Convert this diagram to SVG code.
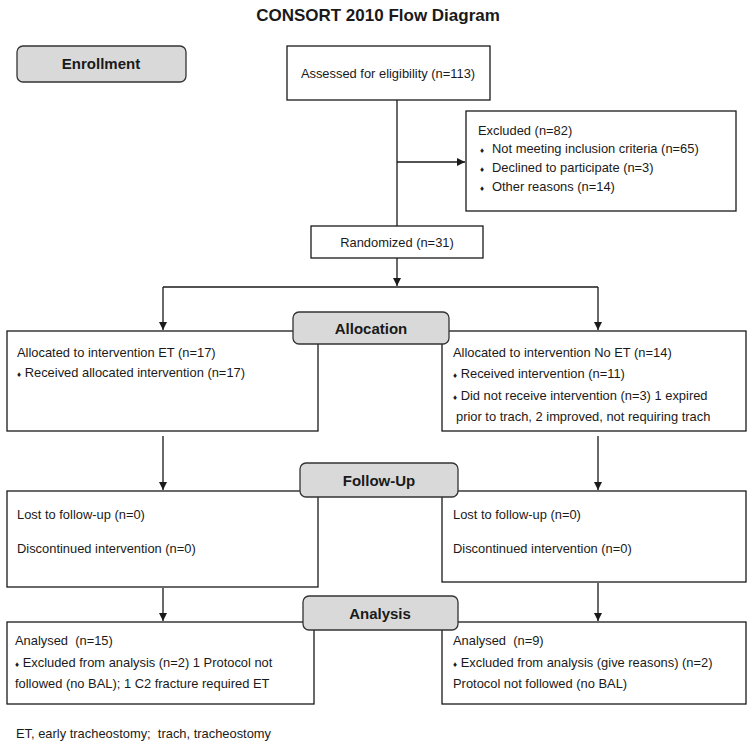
<svg xmlns="http://www.w3.org/2000/svg" width="756" height="745" viewBox="0 0 756 745">
<defs>
<marker id="ah" viewBox="0 0 10 10" refX="10" refY="5" markerWidth="8" markerHeight="8" markerUnits="userSpaceOnUse" orient="auto">
<path d="M0,0 L10,5 L0,10 z" fill="#1a1a1a"/>
</marker>
<style>
.box{fill:#fff;stroke:#1a1a1a;stroke-width:1.3}
.lab{fill:#d9d9d9;stroke:#333;stroke-width:1.3}
.t{font-family:"Liberation Sans",Arial,sans-serif;font-size:12.9px;fill:#1a1a1a;white-space:pre}
.b{font-family:"Liberation Sans",Arial,sans-serif;font-size:15px;font-weight:bold;fill:#1a1a1a;text-anchor:middle}
.bu{font-size:8px}
.ln{fill:none;stroke:#1a1a1a;stroke-width:1.3}
</style>
</defs>
<rect width="756" height="745" fill="#fff"/>
<text x="378" y="21" class="b" style="font-size:17px">CONSORT 2010 Flow Diagram</text>

<g id="connectors">
<path class="ln" d="M397,100 V226"/>
<path class="ln" d="M397,162 H465" marker-end="url(#ah)"/>
<path class="ln" d="M397,258 V286" marker-end="url(#ah)"/>
<path class="ln" d="M163,287 H598"/>
<path class="ln" d="M163,287 V330" marker-end="url(#ah)"/>
<path class="ln" d="M598,287 V330" marker-end="url(#ah)"/>
<path class="ln" d="M163,436 V490" marker-end="url(#ah)"/>
<path class="ln" d="M598,436 V490" marker-end="url(#ah)"/>
<path class="ln" d="M163,588 V621" marker-end="url(#ah)"/>
<path class="ln" d="M598,583 V621" marker-end="url(#ah)"/>
</g>

<g id="enrollment">
<rect class="lab" x="17" y="46" width="169" height="36" rx="6"/>
<text x="101" y="69" class="b">Enrollment</text>
</g>

<g id="assessed">
<rect class="box" x="287" y="46" width="203" height="54"/>
<text x="388" y="78" class="t" text-anchor="middle">Assessed for eligibility (n=113)</text>
</g>

<g id="excluded">
<rect class="box" x="466" y="111" width="270" height="100"/>
<text x="478" y="135" class="t">Excluded (n=82)</text>
<text x="480" y="153" class="t"><tspan class="bu">♦</tspan><tspan x="492">Not meeting inclusion criteria (n=65)</tspan></text>
<text x="480" y="172" class="t"><tspan class="bu">♦</tspan><tspan x="492">Declined to participate (n=3)</tspan></text>
<text x="480" y="191" class="t"><tspan class="bu">♦</tspan><tspan x="492">Other reasons (n=14)</tspan></text>
</g>

<g id="randomized">
<rect class="box" x="311" y="226" width="172" height="32"/>
<text x="397" y="247" class="t" text-anchor="middle">Randomized (n=31)</text>
</g>

<g id="alloc-et">
<rect class="box" x="7" y="331" width="311" height="100"/>
<text x="17" y="357" class="t">Allocated to intervention ET (n=17)</text>
<text x="17" y="377" class="t"><tspan class="bu">♦</tspan> Received allocated intervention (n=17)</text>
</g>

<g id="alloc-noet">
<rect class="box" x="442" y="331" width="304" height="100"/>
<text x="453" y="357" class="t">Allocated to intervention No ET (n=14)</text>
<text x="453" y="378" class="t"><tspan class="bu">♦</tspan> Received intervention (n=11)</text>
<text x="453" y="400" class="t"><tspan class="bu">♦</tspan> Did not receive intervention (n=3) 1 expired</text>
<text x="456" y="421" class="t">prior to trach, 2 improved, not requiring trach</text>
</g>

<g id="allocation">
<rect class="lab" x="293" y="312" width="156" height="32" rx="6"/>
<text x="371" y="334" class="b">Allocation</text>
</g>

<g id="fu-et">
<rect class="box" x="7" y="491" width="311" height="96"/>
<text x="17" y="519" class="t">Lost to follow-up (n=0)</text>
<text x="17" y="553" class="t">Discontinued intervention (n=0)</text>
</g>

<g id="fu-noet">
<rect class="box" x="442" y="491" width="304" height="91"/>
<text x="453" y="519" class="t">Lost to follow-up (n=0)</text>
<text x="453" y="553" class="t">Discontinued intervention (n=0)</text>
</g>

<g id="followup">
<rect class="lab" x="300" y="463" width="158" height="34" rx="6"/>
<text x="379" y="486" class="b">Follow-Up</text>
</g>

<g id="an-et">
<rect class="box" x="7" y="622" width="307" height="82"/>
<text x="15" y="645" class="t">Analysed  (n=15)</text>
<text x="15" y="667" class="t"><tspan class="bu">♦</tspan> Excluded from analysis (n=2) 1 Protocol not</text>
<text x="15" y="688" class="t">followed (no BAL); 1 C2 fracture required ET</text>
</g>

<g id="an-noet">
<rect class="box" x="442" y="622" width="304" height="82"/>
<text x="453" y="645" class="t">Analysed  (n=9)</text>
<text x="453" y="667" class="t"><tspan class="bu">♦</tspan> Excluded from analysis (give reasons) (n=2)</text>
<text x="453" y="688" class="t">Protocol not followed (no BAL)</text>
</g>

<g id="analysis">
<rect class="lab" x="303" y="596" width="155" height="34" rx="6"/>
<text x="380" y="619" class="b">Analysis</text>
</g>

<text x="16" y="738" class="t">ET, early tracheostomy;  trach, tracheostomy</text>
</svg>
